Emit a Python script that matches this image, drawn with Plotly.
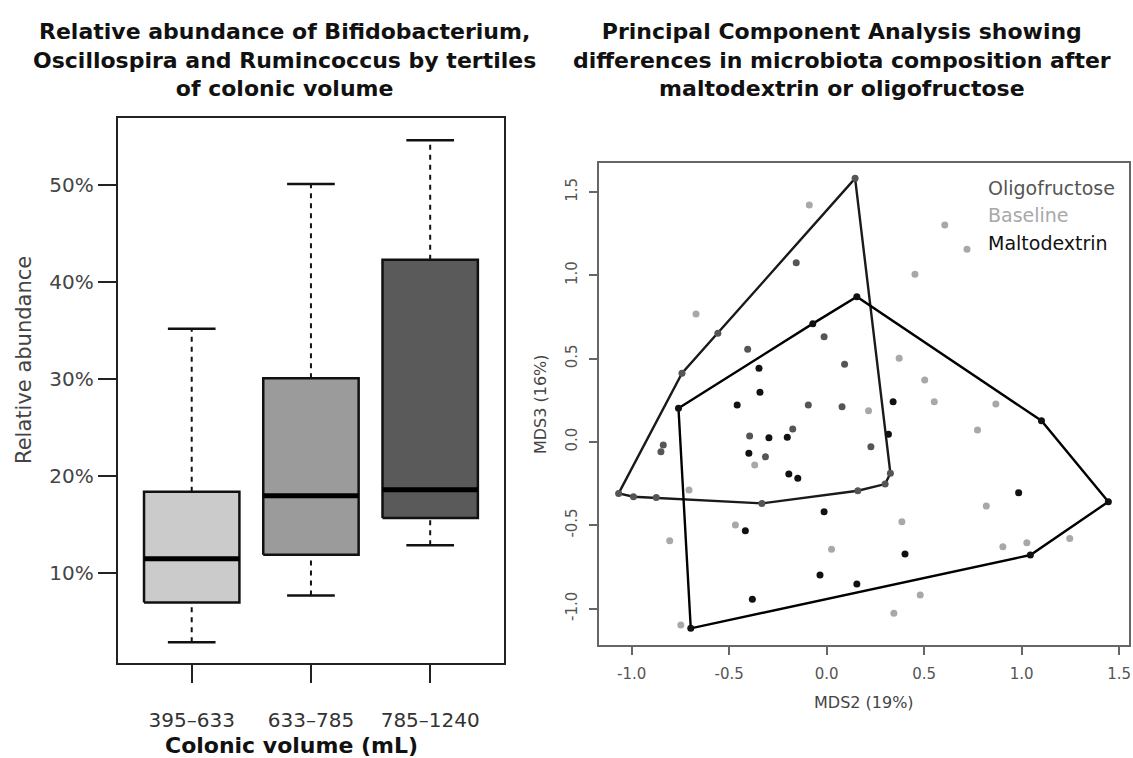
import plotly.graph_objects as go

# ---- Left panel: relative abundance by tertile of colonic volume (%) ----
volume_tertiles = ["395–633", "633–785", "785–1240"]
whisker_low = [2.9, 7.7, 12.9]
q1 = [7.0, 11.9, 15.7]
median = [11.5, 18.0, 18.6]
q3 = [18.4, 30.1, 42.3]
whisker_high = [35.2, 50.1, 54.6]
box_fill = ["#cbcbcb", "#9b9b9b", "#5a5a5a"]
abundance_ticks = [10, 20, 30, 40, 50]

# ---- Right panel: PCA scores (MDS2, MDS3) per group ----
oligo_x = [0.146, -0.156, -0.013, -0.558, -0.405, 0.092, -0.742, -0.094, 0.079, -0.395, -0.174,
           0.227, -0.838, -0.850, -0.314, 0.327, 0.300, -1.067, -0.991, -0.874, -0.332, 0.160]
oligo_y = [1.582, 1.076, 0.632, 0.652, 0.556, 0.466, 0.412, 0.221, 0.211, 0.035, 0.077,
           -0.029, -0.019, -0.059, -0.089, -0.188, -0.253, -0.309, -0.329, -0.333, -0.369, -0.293]
malto_x = [0.155, -0.071, -0.347, -0.342, -0.760, -0.459, 0.341, 1.102, -0.296, -0.202, 0.317, -0.399,
           -0.194, -0.148, 0.985, 1.445, -0.013, -0.417, 0.402, 1.045, -0.034, 0.155, -0.381, -0.697]
malto_y = [0.872, 0.710, 0.442, 0.298, 0.202, 0.221, 0.241, 0.127, 0.025, 0.028, 0.046, -0.068,
           -0.193, -0.218, -0.305, -0.359, -0.419, -0.533, -0.673, -0.679, -0.799, -0.853, -0.945, -1.119]
base_x = [-0.089, 0.606, 0.720, 0.453, -0.670, 0.372, 0.503, 0.215, 0.552, 0.868, 0.774, -0.369,
          -0.706, 0.819, 0.386, -0.468, -0.805, 0.025, 0.904, 1.027, 1.247, 0.480, 0.345, -0.748]
base_y = [1.422, 1.302, 1.156, 1.006, 0.768, 0.502, 0.372, 0.187, 0.241, 0.227, 0.071, -0.139,
          -0.289, -0.385, -0.479, -0.499, -0.593, -0.645, -0.629, -0.605, -0.579, -0.919, -1.029, -1.099]
group_names = ["Oligofructose", "Baseline", "Maltodextrin"]
group_colors = ["#555555", "#a8a8a8", "#111111"]
pc_ticks = [-1.0, -0.5, 0.0, 0.5, 1.0, 1.5]

FONT = "DejaVu Sans"
BOX_HALF = 0.4
CAP_HALF = 0.2


def convex_hull(xs, ys):
    pts = sorted(set(zip(xs, ys)))

    def cross(o, a, b):
        return (a[0] - o[0]) * (b[1] - o[1]) - (a[1] - o[1]) * (b[0] - o[0])

    lower, upper = [], []
    for p in pts:
        while len(lower) >= 2 and cross(lower[-2], lower[-1], p) <= 0:
            lower.pop()
        lower.append(p)
    for p in reversed(pts):
        while len(upper) >= 2 and cross(upper[-2], upper[-1], p) <= 0:
            upper.pop()
        upper.append(p)
    hull = lower[:-1] + upper[:-1]
    hull.append(hull[0])
    return [p[0] for p in hull], [p[1] for p in hull]


fig = go.Figure()

# Boxes, medians, whiskers and caps
for i, name in enumerate(volume_tertiles):
    pos = i + 1
    fig.add_trace(go.Scatter(
        x=[pos - BOX_HALF, pos + BOX_HALF, pos + BOX_HALF, pos - BOX_HALF, pos - BOX_HALF],
        y=[q1[i], q1[i], q3[i], q3[i], q1[i]],
        mode="lines", fill="toself", fillcolor=box_fill[i],
        line=dict(color="#111111", width=2.5), xaxis="x", yaxis="y", name=name))
    fig.add_trace(go.Scatter(
        x=[pos - BOX_HALF, pos + BOX_HALF], y=[median[i], median[i]],
        mode="lines", line=dict(color="#000000", width=5), xaxis="x", yaxis="y"))
    for lo, hi in ((q3[i], whisker_high[i]), (whisker_low[i], q1[i])):
        fig.add_trace(go.Scatter(
            x=[pos, pos], y=[lo, hi], mode="lines",
            line=dict(color="#111111", width=2, dash="5px,5px"), xaxis="x", yaxis="y"))
    for v in (whisker_low[i], whisker_high[i]):
        fig.add_trace(go.Scatter(
            x=[pos - CAP_HALF, pos + CAP_HALF], y=[v, v], mode="lines",
            line=dict(color="#111111", width=2.5), xaxis="x", yaxis="y"))

# PCA hulls and points
groups = [(oligo_x, oligo_y), (base_x, base_y), (malto_x, malto_y)]
for (gx, gy), color, name in zip(groups, group_colors, group_names):
    if name != "Baseline":
        hx, hy = convex_hull(gx, gy)
        fig.add_trace(go.Scatter(
            x=hx, y=hy, mode="lines",
            line=dict(color="#1a1a1a" if name == "Oligofructose" else "#000000", width=2.4),
            xaxis="x2", yaxis="y2"))
for (gx, gy), color, name in zip(groups, group_colors, group_names):
    fig.add_trace(go.Scatter(
        x=gx, y=gy, mode="markers", name=name,
        marker=dict(color=color, size=7, line=dict(width=0)),
        xaxis="x2", yaxis="y2"))

W, H = 1133, 758


def px_x(v):
    return v / W


def px_y(v):
    return 1 - v / H


annotations = [
    dict(text="<b>Relative abundance of Bifidobacterium,<br>Oscillospira and Rumincoccus by tertiles<br>of colonic volume</b>",
         x=px_x(285), y=px_y(60), font=dict(size=22, color="#111111", family=FONT)),
    dict(text="<b>Principal Component Analysis showing<br>differences in microbiota composition after<br>maltodextrin or oligofructose</b>",
         x=px_x(843), y=px_y(60), font=dict(size=22, color="#111111", family=FONT)),
    dict(text="<b>Colonic volume (mL)</b>", x=px_x(292), y=px_y(745),
         font=dict(size=22, color="#111111", family=FONT)),
    dict(text="Relative abundance", x=px_x(24), y=px_y(360), textangle=-90,
         font=dict(size=21, color="#444444", family=FONT)),
    dict(text="MDS2 (19%)", x=px_x(866), y=px_y(702),
         font=dict(size=16, color="#444444", family=FONT)),
    dict(text="MDS3 (16%)", x=px_x(541), y=px_y(404), textangle=-90,
         font=dict(size=16, color="#444444", family=FONT)),
]
for k, (name, color) in enumerate(zip(group_names, group_colors)):
    annotations.append(dict(text=name, x=px_x(988), y=px_y(188 + 27.5 * k), xanchor="left",
                            font=dict(size=19, color=color, family=FONT)))
for a in annotations:
    a.update(xref="paper", yref="paper", showarrow=False)
    a.setdefault("xanchor", "center")
    a.setdefault("yanchor", "middle")

fig.update_layout(
    width=W, height=H, margin=dict(l=0, r=0, t=0, b=0),
    paper_bgcolor="white", plot_bgcolor="white", showlegend=False,
    font=dict(family=FONT, color="#333333"),
    annotations=annotations,
    xaxis=dict(domain=[px_x(118), px_x(505)], range=[0.38, 3.62],
               tickvals=[1, 2, 3], ticktext=volume_tertiles,
               ticks="outside", ticklen=18, tickwidth=2, tickcolor="#222222",
               tickfont=dict(size=20, color="#333333", family=FONT), ticklabelstandoff=20,
               showline=True, linecolor="#222222", linewidth=2, mirror=True,
               showgrid=False, zeroline=False, anchor="y"),
    yaxis=dict(domain=[px_y(662.7), px_y(118)], range=[0.79, 56.9],
               tickvals=abundance_ticks, ticktext=[f"{v}%" for v in abundance_ticks],
               ticks="outside", ticklen=18, tickwidth=2, tickcolor="#222222",
               tickfont=dict(size=20, color="#444444", family=FONT),
               showline=True, linecolor="#222222", linewidth=2, mirror=True,
               showgrid=False, zeroline=False, anchor="x"),
    xaxis2=dict(domain=[px_x(600), px_x(1131)], range=[-1.168, 1.551],
                tickvals=pc_ticks, ticktext=[f"{v:.1f}" for v in pc_ticks],
                ticks="outside", ticklen=8, tickwidth=1.5, tickcolor="#666666",
                tickfont=dict(size=15, color="#555555", family=FONT), ticklabelstandoff=6,
                showline=True, linecolor="#666666", linewidth=1.5, mirror=True,
                showgrid=False, zeroline=False, anchor="y2"),
    yaxis2=dict(domain=[px_y(645), px_y(162.7)], range=[-1.219, 1.676],
                tickvals=pc_ticks, ticktext=[f"{v:.1f}" for v in pc_ticks], tickangle=-90,
                ticks="outside", ticklen=8, tickwidth=1.5, tickcolor="#666666",
                tickfont=dict(size=15, color="#555555", family=FONT), ticklabelstandoff=6,
                showline=True, linecolor="#666666", linewidth=1.5, mirror=True,
                showgrid=False, zeroline=False, anchor="x2"),
)

fig.write_html("out.html")
